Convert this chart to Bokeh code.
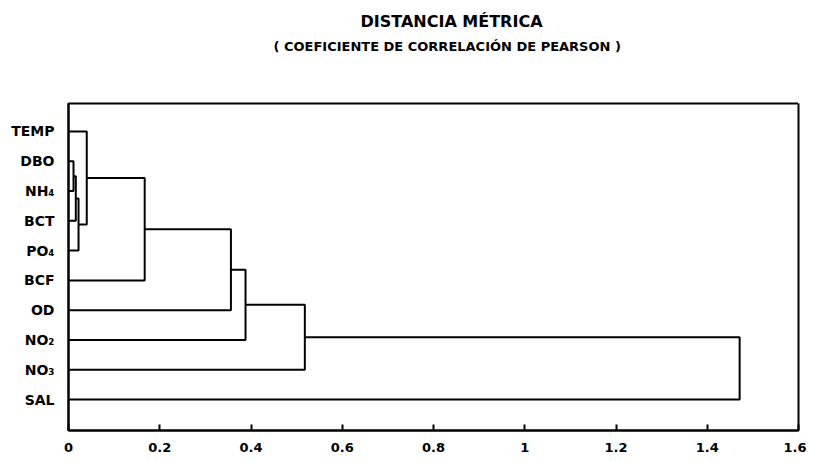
from bokeh.plotting import figure
from bokeh.models import (Range1d, FixedTicker, NumeralTickFormatter, Title, LinearAxis,
                          CustomJSTickFormatter)
from bokeh.embed import file_html
from bokeh.resources import INLINE

# Leaves, top to bottom
leaves = ["TEMP", "DBO", "NH₄", "BCT", "PO₄", "BCF", "OD", "NO₂", "NO₃", "SAL"]
# Merges (scipy-like): leaf indices 0..9, new clusters numbered from 10
merge_left = [1, 10, 11, 0, 13, 14, 15, 16, 17]
merge_right = [2, 3, 4, 12, 5, 6, 7, 8, 9]
merge_height = [0.011, 0.016, 0.022, 0.040, 0.167, 0.356, 0.388, 0.518, 1.471]
x_ticks = [0, 0.2, 0.4, 0.6, 0.8, 1.0, 1.2, 1.4, 1.6]

title_line1 = "DISTANCIA MÉTRICA"
title_line2 = "( COEFICIENTE DE CORRELACIÓN DE PEARSON )"

n = len(leaves)
pos = {i: n - i for i in range(n)}
hgt = {i: 0.0 for i in range(n)}
xs, ys = [], []
for k, (a, b, h) in enumerate(zip(merge_left, merge_right, merge_height)):
    node = n + k
    xs.append([hgt[a], h, h, hgt[b]])
    ys.append([pos[a], pos[a], pos[b], pos[b]])
    pos[node] = (pos[a] + pos[b]) / 2
    hgt[node] = h

FONT = "DejaVu Sans"

p = figure(width=806, height=458, output_backend="svg", toolbar_location=None,
           x_range=Range1d(0, 1.6), y_range=Range1d(-0.04, 10.94),
           min_border_left=68, min_border_right=8, min_border_top=103, min_border_bottom=28)
p.title = None

xa = p.xaxis[0]
ya = p.yaxis[0]

# blank top axis used only as a spacer between the frame and the title lines
spacer = LinearAxis(ticker=FixedTicker(ticks=[1.6]),
                    formatter=CustomJSTickFormatter(code="return ''"),
                    axis_line_color=None, major_tick_line_color="white",
                    minor_tick_line_color=None,
                    major_tick_out=48, minor_tick_out=0, major_tick_in=0,
                    minor_tick_in=0, major_label_standoff=0,
                    major_label_text_font_size="0px")
p.add_layout(spacer, "above")

t2 = Title(text=title_line2, align="left", offset=205, standoff=4,
           text_font=FONT, text_font_size="13px", text_font_style="bold",
           text_color="black")
t1 = Title(text=title_line1, align="left", offset=292, standoff=8,
           text_font=FONT, text_font_size="16px", text_font_style="bold",
           text_color="black")
p.add_layout(t2, "above")
p.add_layout(t1, "above")

p.multi_line(xs, ys, line_color="black", line_width=2)

p.xgrid.visible = False
p.ygrid.visible = False
p.outline_line_color = "black"
p.outline_line_width = 2
p.background_fill_color = "white"
p.border_fill_color = "white"

xa.ticker = FixedTicker(ticks=x_ticks)
xa.formatter = NumeralTickFormatter(format="0.[0]")
xa.major_tick_in = 6
xa.major_tick_out = 0
xa.minor_tick_line_color = None
xa.axis_line_width = 2
xa.major_tick_line_width = 2
xa.major_label_standoff = 12
xa.major_label_text_font = FONT
xa.major_label_text_font_size = "13px"
xa.major_label_text_font_style = "bold"
xa.major_label_text_color = "black"

ya.ticker = FixedTicker(ticks=list(range(1, n + 1)))
ya.major_label_overrides = {n - i: lab for i, lab in enumerate(leaves)}
ya.major_tick_in = 0
ya.major_tick_out = 0
ya.minor_tick_line_color = None
ya.axis_line_width = 2
ya.major_label_standoff = 14
ya.major_label_text_font = FONT
ya.major_label_text_font_size = "14px"
ya.major_label_text_font_style = "bold"
ya.major_label_text_color = "black"

open("out.html", "w").write(file_html(p, INLINE))
